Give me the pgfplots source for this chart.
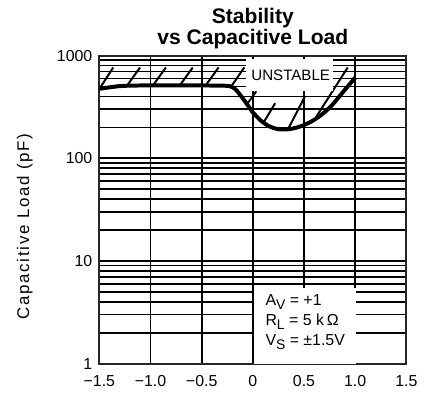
\documentclass[border=0pt]{standalone}
\usepackage{fontspec}
\setmainfont{Liberation Sans}
\usepackage{pgfplots}
\pgfplotsset{compat=1.18}
\pgfdeclarelayer{boxes}
\pgfplotsset{
  layers/withboxes/.define layer set={axis background,axis grid,boxes,axis ticks,axis lines,axis tick labels,pre main,main,axis descriptions,axis foreground}{
    grid style={/pgfplots/on layer=axis grid},
    tick style={/pgfplots/on layer=axis ticks},
    axis line style={/pgfplots/on layer=axis lines},
    label style={/pgfplots/on layer=axis descriptions},
    legend style={/pgfplots/on layer=axis descriptions},
    title style={/pgfplots/on layer=axis descriptions},
    ticklabel style={/pgfplots/on layer=axis tick labels},
    axis background@ style={/pgfplots/on layer=axis background},
  },
}
\newcommand\sub[1]{\raisebox{-0.5ex}{\fontsize{7}{7}\selectfont #1}}

\begin{document}
\begin{tikzpicture}
\begin{axis}[
  set layers=withboxes,
  width=154.5pt, height=155pt, scale only axis,
  xmin=-1.5, xmax=1.5,
  ymode=log, ymin=1, ymax=1000,
  xtick={-1.5,-1,-0.5,0,0.5,1,1.5},
  xticklabels={−1.5,−1.0,−0.5,0,0.5,1.0,1.5},
  ytick={1,10,100,1000},
  yticklabels={1,10,100,1000},
  xmajorgrids, ymajorgrids, yminorgrids,
  major grid style={black, line width=0.85pt},
  minor grid style={black, line width=0.85pt},
  tick align=inside,
  major tick length=2.5pt, minor tick length=0pt,
  tick style={black, line width=0.85pt},
  axis line style={black!85, line width=1pt},
  tick label style={font=\fontsize{8}{9}\selectfont},
  xticklabel style={yshift=-2.5pt},
  title={Stability\\vs Capacitive Load},
  title style={at={(axis description cs:0.5,1)}, anchor=south, inner sep=0pt,
    yshift=-3pt, font=\bfseries\fontsize{10.6}{11}\selectfont, align=center},
  ylabel={Capacitive Load (pF)},
  ylabel style={at={(axis description cs:-0.243,0.445)}, anchor=center,
    font=\fontsize{8.5}{10}\selectfont\addfontfeature{LetterSpace=10}},
]
% stability boundary
\addplot[black, line width=2pt, smooth, tension=0.45] coordinates {
  (-1.5,475) (-1.3,505) (-1.1,512) (-0.8,512) (-0.5,512) (-0.3,510)
  (-0.22,503) (-0.17,470) (-0.12,410) (-0.06,340) (0.0,280) (0.08,232)
  (0.16,205) (0.25,192) (0.35,192) (0.45,202) (0.55,222) (0.65,256)
  (0.76,318) (0.9,465) (1.0,610)
};

% hatching on the unstable side
\addplot[black, line width=1pt] coordinates {(-1.49,490) (-1.364,767)};
\addplot[black, line width=1pt] coordinates {(-1.228,512) (-1.102,767)};
\addplot[black, line width=1pt] coordinates {(-0.976,512) (-0.85,767)};
\addplot[black, line width=1pt] coordinates {(-0.714,512) (-0.587,767)};
\addplot[black, line width=1pt] coordinates {(-0.461,512) (-0.335,767)};
\addplot[black, line width=1pt] coordinates {(-0.209,505) (-0.083,767)};
\addplot[black, line width=1pt] coordinates {(-0.063,330) (0.034,449)};
\addplot[black, line width=1pt] coordinates {(0.102,220) (0.218,344)};
\addplot[black, line width=1pt] coordinates {(0.345,193) (0.510,402)};
\addplot[black, line width=1pt] coordinates {(0.617,251) (0.927,767)};

% white boxes over the grid
\fill[white, on layer=boxes] (axis cs:-0.063,449) rectangle (axis cs:0.78,917);
\fill[white, on layer=boxes] (axis cs:0.012,1) rectangle (axis cs:1.012,5.44);

\node[font=\fontsize{7.6}{9}\selectfont] at (axis cs:0.37,642) {UNSTABLE};
\node[anchor=north west, align=left, inner sep=0pt, font=\fontsize{8}{10}\selectfont]
  at (axis cs:0.12,4.76) {A\sub{V} = +1\\R\sub{L} = 5 k$\,$Ω\\V\sub{S} = ±1.5V};
\end{axis}
\path (-50pt,-17pt) rectangle (162pt,183pt);
\end{tikzpicture}
\end{document}
